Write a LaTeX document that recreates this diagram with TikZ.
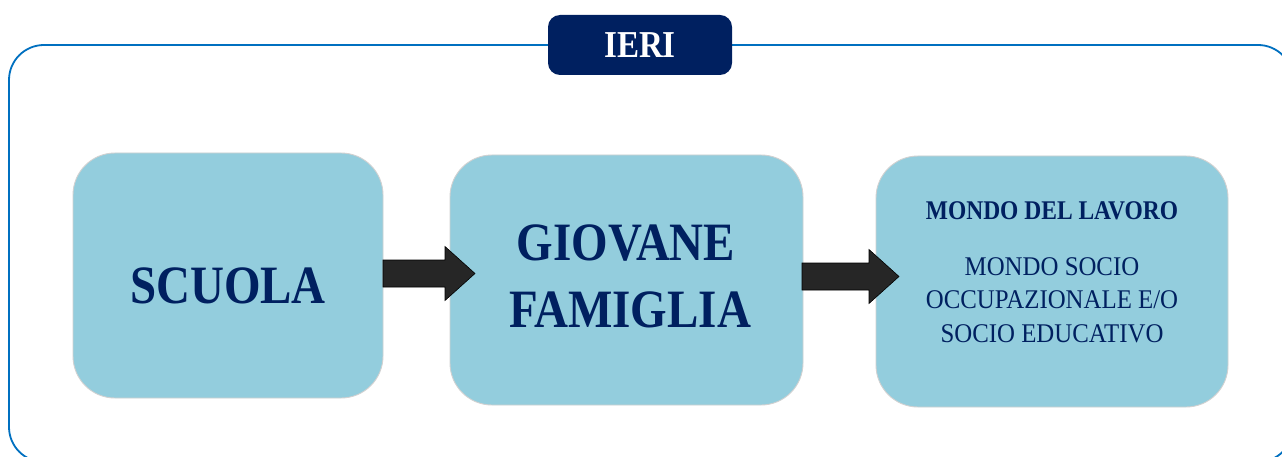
\documentclass[tikz,border=0pt]{standalone}
\usepackage{fontspec}
\setmainfont{Liberation Serif}
\newfontfamily\cambb[FakeStretch=0.87]{Liberation Serif}
\newfontfamily\cambr[FakeStretch=0.92]{Liberation Serif}
\usetikzlibrary{calc}
\definecolor{framebl}{HTML}{0070C0}
\definecolor{navy}{HTML}{002060}
\definecolor{boxfill}{HTML}{93CDDD}
\definecolor{arrfill}{HTML}{262626}
\tikzset{
  boxstyle/.style={draw=black!18, line width=0.9pt, fill=boxfill, rounded corners=42pt},
  bigtxt/.style={anchor=base, inner sep=0pt, text=navy, font=\cambb\bfseries\fontsize{54}{60}\selectfont},
  midtxt/.style={anchor=base, inner sep=0pt, text=navy, font=\cambb\bfseries\fontsize{27}{30}\selectfont},
  smalltxt/.style={anchor=base, inner sep=0pt, text=navy, font=\cambr\fontsize{27}{30}\selectfont},
  fatarrow/.style={fill=arrfill, draw=black, line width=0.6pt, line join=miter}
}
\newcommand\myfatarrow[2]{%
  \path[fatarrow] ($(#1)+(0,-13.5)$) -- ($(#2)+(-30,-13.5)$) -- ($(#2)+(-30,-27)$) -- (#2)
    -- ($(#2)+(-30,27)$) -- ($(#2)+(-30,13.5)$) -- ($(#1)+(0,13.5)$) -- cycle;}
\begin{document}
\begin{tikzpicture}[x=1pt,y=-1pt]
\useasboundingbox (0,0) rectangle (1282,457);
\clip (0,0) rectangle (1282,457);
\fill[white] (0,0) rectangle (1282,457);
% outer frame
\draw[framebl, line width=1.8pt, rounded corners=35pt] (9,45) rectangle (1293,462);
% title tab
\fill[navy, rounded corners=12pt] (548,15) rectangle (732,75);
\node[anchor=base, inner sep=0pt, text=white, font=\cambb\bfseries\fontsize{38}{40}\selectfont] (ieri) at (640,58) {IERI};
% boxes
\path[boxstyle] (73,153) rectangle (383,398);
\coordinate (b1e) at (383,273.5);
\path[boxstyle] (450,155) rectangle (803,405);
\coordinate (b2e) at (802,276.5);
\path[boxstyle] (876,156) rectangle (1228,407);
% texts
\node[bigtxt] (scuola) at (228,303) {SCUOLA};
\node[bigtxt] (giovane) at (626,260) {GIOVANE};
\node[bigtxt] (famiglia) at (630,327) {FAMIGLIA};
\node[midtxt] (mdl) at (1052,220) {MONDO DEL LAVORO};
\node[smalltxt] (l1) at (1052,275) {MONDO SOCIO};
\node[smalltxt] (l2) at (1052,308.5) {OCCUPAZIONALE E/O};
\node[smalltxt] (l3) at (1052,342) {SOCIO EDUCATIVO};
% arrows
\coordinate (t1) at (475,273.5);
\coordinate (t2) at (899,276.5);
\myfatarrow{b1e}{t1}
\myfatarrow{b2e}{t2}
\end{tikzpicture}
\end{document}
